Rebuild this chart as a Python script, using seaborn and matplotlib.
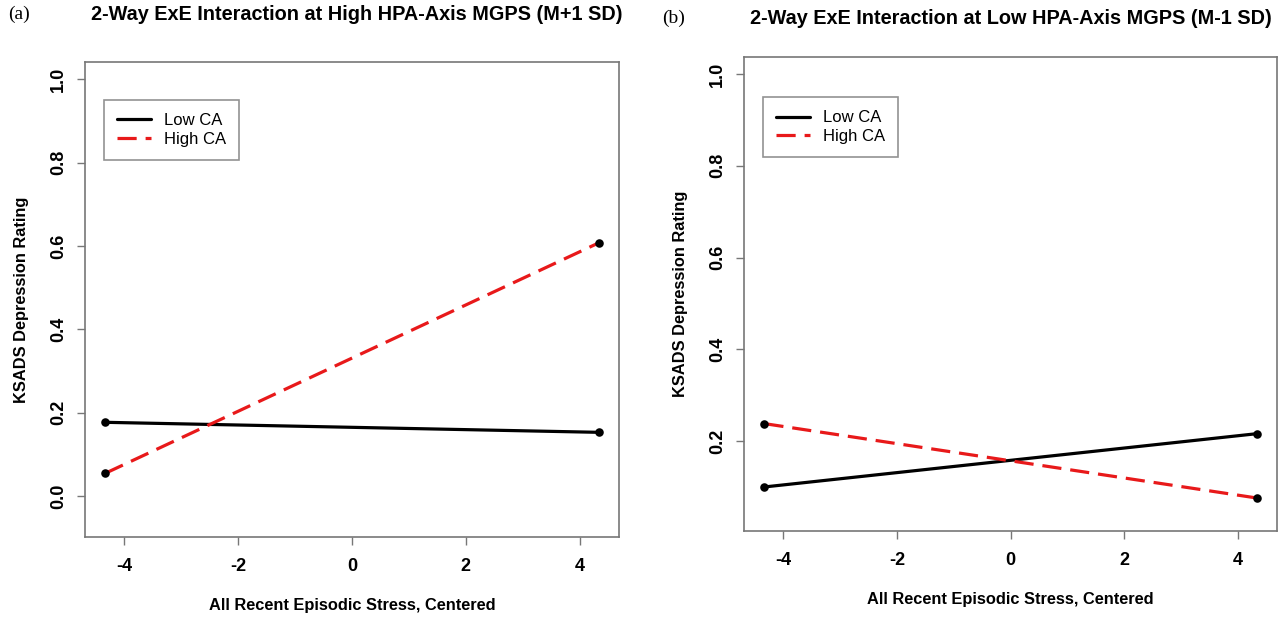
import numpy as np
import pandas as pd
import matplotlib
matplotlib.use("Agg")
import matplotlib.pyplot as plt
import seaborn as sns
from matplotlib.lines import Line2D

# ---- data ----
stress = [-4.33, 4.33]
groups = ["Low CA", "High CA"]
high_low_ca = [0.177, 0.153]
high_high_ca = [0.055, 0.607]
low_low_ca = [0.100, 0.216]
low_high_ca = [0.238, 0.076]
titles = ["2-Way ExE Interaction at High HPA-Axis MGPS (M+1 SD)",
          "2-Way ExE Interaction at Low HPA-Axis MGPS (M-1 SD)"]
panel_tags = ["(a)", "(b)"]
xticks = [-4, -2, 0, 2, 4]
yticks_a = [0.0, 0.2, 0.4, 0.6, 0.8, 1.0]
yticks_b = [0.2, 0.4, 0.6, 0.8, 1.0]
xlabel = "All Recent Episodic Stress, Centered"
ylabel = "KSADS Depression Rating"

sns.set_style("white")
plt.rcParams["font.family"] = ["Liberation Sans", "DejaVu Sans"]
plt.rcParams["text.color"] = "black"
plt.rcParams["axes.labelcolor"] = "black"
plt.rcParams["xtick.labelcolor"] = "black"
plt.rcParams["ytick.labelcolor"] = "black"

fig = plt.figure(figsize=(12.81, 6.18), dpi=100)
ax_a = fig.add_axes([85/1281, 1-537/618, (619-85)/1281, (537-62)/618])
ax_b = fig.add_axes([744/1281, 1-531/618, (1277-744)/1281, (531-57)/618])

panels = [
    (ax_a, high_low_ca, high_high_ca, yticks_a, (-0.098, 1.041)),
    (ax_b, low_low_ca, low_high_ca, yticks_b, (0.004, 1.037)),
]

palette = {"Low CA": "black", "High CA": "#e8191a"}
dash_on, dash_off = 6.0, 2.8

for i, (ax, lo, hi, yt, ylim) in enumerate(panels):
    df = pd.DataFrame({
        "x": stress * 2,
        "y": lo + hi,
        "group": [groups[0]] * 2 + [groups[1]] * 2,
    })
    sns.lineplot(data=df, x="x", y="y", hue="group", style="group",
                 palette=palette, dashes={"Low CA": "", "High CA": (dash_on, dash_off)},
                 linewidth=2.3, ax=ax, legend=False)
    sns.scatterplot(data=df, x="x", y="y", color="black", s=38,
                    edgecolor="black", linewidth=0, ax=ax, legend=False, zorder=5)
    ax.set_xlim(-4.69, 4.69)
    ax.set_ylim(*ylim)
    ax.set_xticks(xticks)
    ax.set_xticklabels([str(t) for t in xticks], fontweight="bold", fontsize=13)
    ax.set_yticks(yt)
    ax.set_yticklabels([f"{t:.1f}" for t in yt], fontweight="bold", fontsize=13,
                       rotation=90, va="center")
    ax.tick_params(axis="both", direction="out", length=6, width=1.0,
                   color="#777777", bottom=True, left=True)
    ax.tick_params(axis="x", pad=9)
    ax.tick_params(axis="y", pad=7)
    for sp in ax.spines.values():
        sp.set_color("#777777")
        sp.set_linewidth(1.2)
        sp.set_visible(True)
    ax.set_xlabel(xlabel, fontweight="bold", fontsize=11.8, labelpad=17)
    ax.set_ylabel(ylabel, fontweight="bold", fontsize=11.8, labelpad=15)
    ax.grid(False)
    handles = [Line2D([], [], color="black", lw=2.3),
               Line2D([], [], color="#e8191a", lw=2.3, dashes=(dash_on, dash_off))]
    leg = ax.legend(handles, groups, loc="upper left",
                    bbox_to_anchor=(0.0356, 0.92 if i == 0 else 0.9156),
                    fancybox=False, frameon=True, edgecolor="#777777",
                    fontsize=12, handlelength=2.0, handletextpad=0.8,
                    labelspacing=0.2, borderpad=0.8, borderaxespad=0)
    leg.get_frame().set_linewidth(1.2)

fig.text(8/1281, 1-14/618, panel_tags[0], family="Liberation Serif", fontsize=14,
         va="center", ha="left")
fig.text(662/1281, 1-18/618, panel_tags[1], family="Liberation Serif", fontsize=14,
         va="center", ha="left")
fig.text(357/1281, 1-14/618, titles[0], fontweight="bold", fontsize=14.3,
         va="center", ha="center")
fig.text(1011/1281, 1-18/618, titles[1], fontweight="bold", fontsize=14.3,
         va="center", ha="center")

fig.savefig("out.png", dpi=100)
